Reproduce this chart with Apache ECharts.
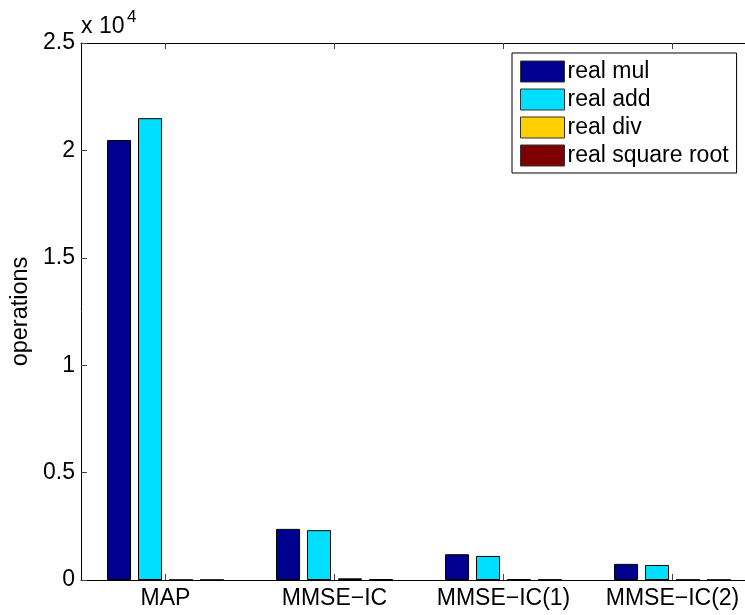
<!DOCTYPE html>
<html>
<head>
<meta charset="utf-8">
<script src="https://cdn.jsdelivr.net/npm/echarts@6/dist/echarts.min.js"></script>
<style>
html,body{margin:0;padding:0;background:#fff;overflow:hidden;}
#c{width:770px;height:615px;}
</style>
</head>
<body>
<div id="c"></div>
<script>
const categories = ['MAP', 'MMSE\u2212IC', 'MMSE\u2212IC(1)', 'MMSE\u2212IC(2)'];
const seriesNames = ['real mul', 'real add', 'real div', 'real square root'];
const realMul = [20480, 2380, 1200, 750];
const realAdd = [21500, 2320, 1120, 700];
const realDiv = [5, 80, 45, 15];
const realSqrt = [5, 30, 20, 10];
const yTickLabels = ['0', '0.5', '1', '1.5', '2', '2.5'];
const colors = ['#00008F', '#00DFFF', '#FFCF00', '#7F0000'];

const FONT = 'Liberation Sans, Arial, Helvetica, sans-serif';
const chart = echarts.init(document.getElementById('c'), null, {renderer: 'canvas'});

const values = [realMul, realAdd, realDiv, realSqrt];
const series = seriesNames.map((n, i) => ({
  name: n,
  type: 'bar',
  data: values[i],
  barWidth: 24,
  barGap: '29%',
  itemStyle: {color: colors[i], borderColor: '#000', borderWidth: 1},
  emphasis: {disabled: true},
  animation: false
}));

chart.setOption({
  animation: false,
  textStyle: {fontFamily: FONT},
  grid: {left: 81, top: 43, width: 676, height: 537, containLabel: false},
  legend: {
    orient: 'vertical',
    left: 512, top: 53,
    width: 230,
    padding: [7, 8, 6, 8],
    itemWidth: 44, itemHeight: 21, itemGap: 5,
    backgroundColor: '#fff',
    borderColor: '#000', borderWidth: 1,
    icon: 'rect',
    textStyle: {fontSize: 23, color: '#000', fontFamily: FONT, padding: [0, 0, 0, -2]},
    itemStyle: {borderColor: '#333', borderWidth: 1},
    data: seriesNames,
    selectedMode: false
  },
  graphic: [
    {type: 'text', left: 81, top: 15, style: {text: 'x 10', font: '23px ' + FONT, fill: '#000'}},
    {type: 'text', left: 127, top: 9, style: {text: '4', font: '17px ' + FONT, fill: '#000'}}
  ],
  xAxis: [{
    type: 'category',
    data: categories,
    position: 'bottom',
    axisLine: {lineStyle: {color: '#000', width: 1}},
    axisTick: {show: true, inside: true, alignWithLabel: true, length: 6, lineStyle: {color: '#444'}},
    axisLabel: {fontSize: 23, color: '#000', margin: 7, fontFamily: FONT, interval: 0},
    splitLine: {show: false}
  }, {
    type: 'category',
    data: categories,
    position: 'top',
    axisLine: {lineStyle: {color: '#000', width: 1}},
    axisTick: {show: true, inside: true, alignWithLabel: true, length: 6, lineStyle: {color: '#444'}},
    axisLabel: {show: false},
    splitLine: {show: false}
  }],
  yAxis: [{
    type: 'value',
    min: 0, max: 25000, interval: 5000,
    name: 'operations',
    nameLocation: 'middle',
    nameRotate: 90,
    nameGap: 44,
    nameTextStyle: {fontSize: 23.5, color: '#000', fontFamily: FONT},
    axisLine: {show: true, lineStyle: {color: '#000', width: 1}},
    axisTick: {show: true, inside: true, length: 6, lineStyle: {color: '#444'}},
    axisLabel: {fontSize: 23, color: '#000', margin: 6, fontFamily: FONT,
      formatter: (v) => yTickLabels[Math.round(v / 5000)]},
    splitLine: {show: false}
  }],
  series: series
});
</script>
</body>
</html>
